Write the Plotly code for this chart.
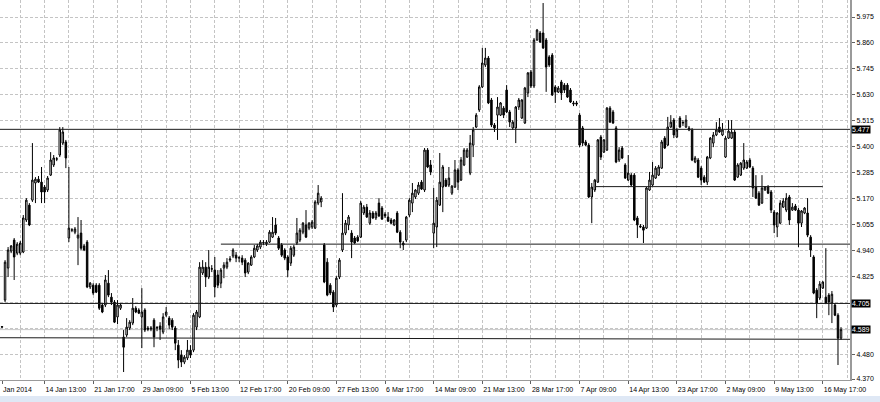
import pandas as pd
import plotly.graph_objects as go

# ---- trading calendar (3 bars per day: 09:00, 13:00, 17:00) ----
holidays = ["2014-04-18", "2014-04-21", "2014-05-01"]
first_day = "2014-01-07"
last_day = "2014-05-20"
bar_hours = [9, 13, 17]

# ---- OHLC values ----
bar_open = [
    4.600, 4.720, 4.862, 4.937, 4.986, 4.928, 4.928, 4.933, 5.075, 5.141,
    5.163, 5.239, 5.256, 5.243, 5.221, 5.208, 5.274, 5.319, 5.345, 5.363,
    5.416, 5.421, 4.995, 5.030, 5.021, 4.995, 5.017, 4.960, 4.977, 4.778,
    4.786, 4.786, 4.786, 4.698, 4.698, 4.795, 4.733, 4.711, 4.645, 4.684,
    4.556, 4.565, 4.596, 4.618, 4.684, 4.676, 4.645, 4.676, 4.596, 4.591,
    4.631, 4.596, 4.605, 4.578, 4.653, 4.640, 4.631, 4.596, 4.520, 4.476,
    4.445, 4.463, 4.498, 4.498, 4.600, 4.645, 4.840, 4.866, 4.822, 4.857,
    4.853, 4.831, 4.795, 4.862, 4.866, 4.897, 4.915, 4.919, 4.906, 4.906,
    4.897, 4.844, 4.875, 4.911, 4.942, 4.955, 4.973, 4.969, 4.977, 4.999,
    5.053, 4.995, 4.964, 4.942, 4.911, 4.884, 4.919, 4.973, 4.986, 5.021,
    5.053, 5.039, 5.044, 5.039, 5.150, 5.155, 4.964, 4.888, 4.786, 4.755,
    4.698, 4.822, 4.942, 5.017, 5.053, 5.017, 4.995, 4.999, 4.999, 5.106,
    5.132, 5.061, 5.106, 5.084, 5.150, 5.128, 5.101, 5.088, 5.075, 5.053,
    5.106, 5.021, 4.973, 4.986, 5.097, 5.150, 5.177, 5.194, 5.243, 5.208,
    5.385, 5.319, 5.017, 5.044, 5.141, 5.221, 5.252, 5.230, 5.194, 5.221,
    5.297, 5.252, 5.319, 5.354, 5.283, 5.407, 5.487, 5.563, 5.665, 5.762,
    5.793, 5.607, 5.496, 5.540, 5.540, 5.571, 5.651, 5.554, 5.483, 5.483,
    5.576, 5.527, 5.505, 5.638, 5.731, 5.669, 5.873, 5.904, 5.904, 5.873,
    5.798, 5.806, 5.665, 5.642, 5.687, 5.673, 5.673, 5.651, 5.594, 5.594,
    5.540, 5.483, 5.421, 5.407, 5.177, 5.208, 5.243, 5.443, 5.376, 5.385,
    5.571, 5.554, 5.483, 5.341, 5.394, 5.319, 5.252, 5.274, 5.274, 5.084,
    5.048, 5.044, 5.039, 5.208, 5.230, 5.261, 5.274, 5.305, 5.438, 5.407,
    5.487, 5.518, 5.443, 5.527, 5.505, 5.487, 5.483, 5.474, 5.332, 5.341,
    5.305, 5.265, 5.243, 5.350, 5.416, 5.452, 5.487, 5.452, 5.354, 5.438,
    5.438, 5.465, 5.265, 5.274, 5.305, 5.305, 5.341, 5.305, 5.221, 5.194,
    5.150, 5.208, 5.221, 5.199, 5.110, 5.044, 5.061, 5.132, 5.119, 5.177,
    5.119, 5.137, 5.119, 5.061, 5.106, 5.106, 4.999, 4.911, 4.764, 4.729,
    4.773, 4.733, 4.742, 4.707, 4.698, 4.653, 4.551,
]
bar_high = [
    4.605, 4.897, 4.955, 4.964, 4.995, 4.977, 4.982, 5.097, 5.172, 5.150,
    5.416, 5.265, 5.270, 5.310, 5.230, 5.270, 5.376, 5.363, 5.354, 5.487,
    5.487, 5.430, 5.310, 5.039, 5.044, 5.088, 5.075, 4.969, 4.986, 4.800,
    4.795, 4.795, 4.795, 4.707, 4.831, 4.853, 4.751, 4.720, 4.720, 4.707,
    4.587, 4.640, 4.631, 4.729, 4.693, 4.684, 4.773, 4.684, 4.605, 4.605,
    4.640, 4.605, 4.622, 4.662, 4.689, 4.649, 4.640, 4.605, 4.543, 4.498,
    4.476, 4.543, 4.520, 4.662, 4.676, 4.888, 4.897, 4.888, 4.942, 4.875,
    4.911, 4.853, 4.862, 4.888, 4.906, 4.915, 4.950, 4.933, 4.915, 4.919,
    4.906, 4.888, 4.919, 4.964, 4.969, 4.986, 4.986, 4.986, 5.030, 5.088,
    5.084, 5.004, 4.973, 4.950, 4.919, 4.960, 4.964, 5.084, 5.039, 5.066,
    5.119, 5.066, 5.075, 5.163, 5.230, 5.181, 4.973, 4.906, 4.795, 4.764,
    4.826, 4.906, 5.194, 5.075, 5.097, 5.030, 5.004, 5.008, 5.159, 5.141,
    5.146, 5.119, 5.115, 5.115, 5.172, 5.137, 5.110, 5.110, 5.084, 5.079,
    5.115, 5.030, 4.982, 5.093, 5.172, 5.239, 5.212, 5.243, 5.252, 5.394,
    5.394, 5.341, 5.217, 5.177, 5.372, 5.319, 5.261, 5.310, 5.230, 5.341,
    5.305, 5.354, 5.394, 5.394, 5.452, 5.487, 5.549, 5.673, 5.838, 5.838,
    5.802, 5.616, 5.505, 5.620, 5.598, 5.580, 5.673, 5.563, 5.518, 5.580,
    5.616, 5.611, 5.665, 5.731, 5.740, 5.882, 5.922, 5.913, 6.037, 5.882,
    5.806, 5.815, 5.673, 5.669, 5.696, 5.682, 5.682, 5.660, 5.603, 5.603,
    5.549, 5.492, 5.430, 5.416, 5.239, 5.257, 5.434, 5.452, 5.434, 5.576,
    5.580, 5.563, 5.492, 5.398, 5.403, 5.327, 5.363, 5.283, 5.283, 5.093,
    5.057, 5.053, 5.221, 5.288, 5.332, 5.314, 5.319, 5.430, 5.447, 5.532,
    5.540, 5.527, 5.483, 5.536, 5.518, 5.540, 5.492, 5.483, 5.359, 5.350,
    5.314, 5.274, 5.359, 5.443, 5.465, 5.509, 5.527, 5.505, 5.447, 5.518,
    5.518, 5.474, 5.327, 5.332, 5.416, 5.341, 5.350, 5.314, 5.274, 5.203,
    5.274, 5.225, 5.230, 5.208, 5.119, 5.110, 5.163, 5.172, 5.194, 5.186,
    5.150, 5.146, 5.128, 5.119, 5.132, 5.172, 5.008, 4.919, 4.773, 4.804,
    4.804, 4.950, 4.751, 4.760, 4.707, 4.662, 4.600,
]
bar_low = [
    4.596, 4.711, 4.822, 4.928, 4.809, 4.919, 4.919, 4.928, 5.066, 5.048,
    5.155, 5.150, 5.239, 5.150, 5.150, 5.199, 5.270, 5.310, 5.336, 5.354,
    5.407, 5.305, 4.977, 5.021, 5.012, 4.875, 4.942, 4.937, 4.773, 4.769,
    4.742, 4.751, 4.676, 4.662, 4.689, 4.733, 4.698, 4.618, 4.613, 4.676,
    4.401, 4.556, 4.587, 4.609, 4.662, 4.658, 4.507, 4.578, 4.582, 4.582,
    4.511, 4.582, 4.543, 4.569, 4.645, 4.591, 4.587, 4.498, 4.418, 4.423,
    4.436, 4.454, 4.463, 4.489, 4.587, 4.640, 4.831, 4.778, 4.813, 4.844,
    4.733, 4.773, 4.773, 4.817, 4.857, 4.888, 4.906, 4.888, 4.888, 4.875,
    4.822, 4.835, 4.871, 4.906, 4.933, 4.946, 4.964, 4.960, 4.973, 4.995,
    5.008, 4.942, 4.911, 4.897, 4.822, 4.871, 4.911, 4.964, 4.977, 5.012,
    4.995, 5.030, 5.035, 5.035, 5.141, 5.132, 4.795, 4.737, 4.742, 4.667,
    4.689, 4.813, 4.933, 5.008, 5.030, 4.906, 4.969, 4.977, 4.995, 5.097,
    5.084, 5.053, 5.079, 5.075, 5.088, 5.075, 5.084, 5.066, 5.057, 5.048,
    5.017, 4.950, 4.942, 4.977, 5.088, 5.110, 5.168, 5.186, 5.208, 5.199,
    5.305, 5.274, 4.950, 4.955, 5.137, 5.110, 5.221, 5.221, 5.186, 5.217,
    5.208, 5.248, 5.314, 5.350, 5.274, 5.354, 5.483, 5.554, 5.660, 5.753,
    5.589, 5.487, 5.465, 5.430, 5.536, 5.527, 5.549, 5.487, 5.474, 5.416,
    5.563, 5.523, 5.501, 5.620, 5.660, 5.660, 5.869, 5.860, 5.833, 5.643,
    5.753, 5.625, 5.594, 5.638, 5.607, 5.638, 5.616, 5.594, 5.580, 5.580,
    5.398, 5.403, 5.403, 5.172, 5.061, 5.199, 5.239, 5.341, 5.372, 5.381,
    5.505, 5.501, 5.327, 5.332, 5.345, 5.257, 5.248, 5.225, 5.070, 4.995,
    5.039, 4.973, 5.035, 5.204, 5.225, 5.257, 5.270, 5.301, 5.390, 5.403,
    5.483, 5.438, 5.438, 5.483, 5.492, 5.483, 5.469, 5.336, 5.327, 5.261,
    5.230, 5.239, 5.230, 5.345, 5.398, 5.447, 5.461, 5.447, 5.350, 5.434,
    5.434, 5.248, 5.261, 5.270, 5.297, 5.301, 5.305, 5.177, 5.168, 5.137,
    5.146, 5.204, 5.190, 5.106, 5.017, 4.999, 5.057, 5.128, 5.110, 5.053,
    5.115, 5.115, 4.955, 5.044, 5.101, 4.999, 4.911, 4.746, 4.640, 4.720,
    4.769, 4.702, 4.653, 4.618, 4.649, 4.432, 4.543,
]
bar_close = [
    4.602, 4.888, 4.942, 4.960, 4.911, 4.968, 4.973, 5.084, 5.163, 5.053,
    5.252, 5.256, 5.243, 5.199, 5.199, 5.261, 5.341, 5.350, 5.346, 5.474,
    5.465, 5.350, 5.039, 5.031, 5.035, 5.008, 4.950, 4.942, 4.778, 4.795,
    4.751, 4.755, 4.684, 4.667, 4.809, 4.742, 4.711, 4.622, 4.698, 4.698,
    4.511, 4.600, 4.622, 4.684, 4.667, 4.662, 4.667, 4.587, 4.591, 4.596,
    4.556, 4.598, 4.591, 4.645, 4.667, 4.609, 4.600, 4.529, 4.454, 4.445,
    4.467, 4.498, 4.476, 4.653, 4.667, 4.866, 4.866, 4.822, 4.866, 4.859,
    4.778, 4.786, 4.853, 4.875, 4.888, 4.902, 4.942, 4.906, 4.908, 4.888,
    4.840, 4.884, 4.911, 4.950, 4.960, 4.977, 4.975, 4.977, 5.021, 5.021,
    5.017, 4.950, 4.919, 4.906, 4.853, 4.950, 4.955, 5.017, 5.030, 5.061,
    4.999, 5.061, 5.066, 5.155, 5.194, 5.172, 4.800, 4.742, 4.751, 4.689,
    4.817, 4.897, 5.017, 5.061, 5.088, 4.977, 4.973, 4.982, 5.150, 5.132,
    5.088, 5.106, 5.084, 5.106, 5.093, 5.079, 5.093, 5.070, 5.061, 5.075,
    5.021, 4.977, 4.964, 5.088, 5.163, 5.194, 5.208, 5.230, 5.212, 5.385,
    5.310, 5.288, 5.061, 5.163, 5.243, 5.310, 5.225, 5.261, 5.225, 5.297,
    5.243, 5.341, 5.385, 5.385, 5.416, 5.474, 5.540, 5.665, 5.771, 5.793,
    5.594, 5.496, 5.483, 5.576, 5.594, 5.540, 5.554, 5.509, 5.509, 5.576,
    5.607, 5.607, 5.660, 5.727, 5.669, 5.873, 5.917, 5.864, 5.838, 5.753,
    5.762, 5.629, 5.642, 5.660, 5.638, 5.651, 5.620, 5.598, 5.590, 5.589,
    5.407, 5.416, 5.407, 5.177, 5.221, 5.252, 5.430, 5.354, 5.430, 5.571,
    5.509, 5.505, 5.332, 5.385, 5.350, 5.261, 5.283, 5.230, 5.075, 5.053,
    5.044, 5.030, 5.217, 5.252, 5.274, 5.305, 5.310, 5.421, 5.394, 5.487,
    5.509, 5.452, 5.474, 5.487, 5.507, 5.518, 5.474, 5.341, 5.350, 5.265,
    5.252, 5.243, 5.354, 5.438, 5.452, 5.474, 5.465, 5.474, 5.438, 5.469,
    5.465, 5.252, 5.319, 5.327, 5.341, 5.332, 5.310, 5.217, 5.172, 5.141,
    5.217, 5.221, 5.194, 5.119, 5.053, 5.106, 5.150, 5.159, 5.172, 5.075,
    5.132, 5.119, 5.061, 5.115, 5.128, 5.008, 4.942, 4.751, 4.707, 4.791,
    4.800, 4.707, 4.711, 4.746, 4.653, 4.551, 4.589,
]

# ---- axis tick labels ----
x_tick_labels = ["Jan 2014", "14 Jan 13:00", "21 Jan 17:00", "29 Jan 09:00", "5 Feb 13:00",
                 "12 Feb 17:00", "20 Feb 09:00", "27 Feb 13:00", "6 Mar 17:00", "14 Mar 09:00",
                 "21 Mar 13:00", "28 Mar 17:00", "7 Apr 09:00", "14 Apr 13:00", "23 Apr 17:00",
                 "2 May 09:00", "9 May 13:00", "16 May 17:00"]
x_tick_times = ["2014-01-07 17:00", "2014-01-14 13:00", "2014-01-21 17:00", "2014-01-29 09:00",
                "2014-02-05 13:00", "2014-02-12 17:00", "2014-02-20 09:00", "2014-02-27 13:00",
                "2014-03-06 17:00", "2014-03-14 09:00", "2014-03-21 13:00", "2014-03-28 17:00",
                "2014-04-07 09:00", "2014-04-14 13:00", "2014-04-23 17:00", "2014-05-02 09:00",
                "2014-05-09 13:00", "2014-05-16 17:00"]
y_tick_labels = ["5.975", "5.860", "5.745", "5.630", "5.515", "5.400", "5.285", "5.170",
                 "5.055", "4.940", "4.825", "4.480", "4.370"]
y_grid_levels = ["5.975", "5.860", "5.745", "5.630", "5.515", "5.400", "5.285", "5.170",
                 "5.055", "4.940", "4.825", "4.710", "4.595", "4.480"]

# ---- level lines (price, start time or None, end time or None) ----
level_prices = [5.477, 4.705, 4.968, 5.223]
level_starts = [None, None, "2014-02-10 17:00", "2014-04-08 17:00"]
level_ends = [None, None, None, "2014-05-16 17:00"]
support_line = [4.553, 4.546]
last_price = 4.589
price_tags = [5.477, 4.705, 4.589]

# ---- build bar index ----
days = [d for d in pd.bdate_range(first_day, last_day) if d.strftime("%Y-%m-%d") not in holidays]
bar_times = [d + pd.Timedelta(hours=h) for d in days for h in bar_hours][2:]
pos = {t: i for i, t in enumerate(bar_times)}
x_idx = list(range(len(bar_times)))

major_vals = [pos[pd.Timestamp(t)] for t in x_tick_times]
minor_vals = [v - 8 for v in major_vals[1:]] + [major_vals[-1] + 8]
minor_vals = sorted(set(minor_vals + major_vals[1:]))

X_RANGE = [-0.66, 278.95]
Y_RANGE = [4.3656, 6.0504]
FONT = "Liberation Sans, Arial, sans-serif"
grid_color = "#c4c4c4"

fig = go.Figure(go.Candlestick(
    x=x_idx, open=bar_open, high=bar_high, low=bar_low, close=bar_close,
    increasing=dict(line=dict(color="black", width=1), fillcolor="white"),
    decreasing=dict(line=dict(color="black", width=1), fillcolor="black"),
    whiskerwidth=0, hoverinfo="skip",
))

fig.update_layout(
    width=880, height=402,
    margin=dict(l=0, r=30, t=0, b=22),
    plot_bgcolor="white", paper_bgcolor="white",
    showlegend=False,
    font=dict(family=FONT, size=7, color="#000000"),
)
fig.update_xaxes(
    range=X_RANGE, tickmode="array", tickvals=major_vals, ticktext=x_tick_labels,
    ticks="outside", ticklen=3, tickcolor="#606060", ticklabelposition="outside right",
    ticklabelstandoff=3, tickangle=0, showgrid=False, zeroline=False,
    minor=dict(tickmode="array", tickvals=minor_vals, showgrid=True, gridcolor=grid_color,
               griddash="3px,2px", gridwidth=1, ticks=""),
    showline=True, linecolor="#9a9a9a", linewidth=1,
    rangeslider=dict(visible=False), fixedrange=True,
)
fig.update_yaxes(
    side="right", range=Y_RANGE, tickmode="array",
    tickvals=[float(s) for s in y_tick_labels], ticktext=y_tick_labels,
    ticks="outside", ticklen=3, tickcolor="#606060",
    showgrid=False, zeroline=False, showline=True, linecolor="#9a9a9a", linewidth=2,
    minor=dict(tickmode="array", tickvals=[float(s) for s in y_grid_levels], showgrid=True,
               gridcolor=grid_color, griddash="3px,2px", gridwidth=1, ticks="outside",
               ticklen=3, tickcolor="#606060"),
    fixedrange=True,
)

shapes = []
for p, s, e in zip(level_prices, level_starts, level_ends):
    if s is None:
        shapes.append(dict(type="line", xref="paper", x0=0, x1=1, yref="y", y0=p, y1=p,
                           line=dict(color="#1a1a1a", width=1)))
    else:
        x0 = pos[pd.Timestamp(s)]
        x1 = X_RANGE[1] if e is None else pos[pd.Timestamp(e)]
        shapes.append(dict(type="line", xref="x", x0=x0, x1=x1, yref="y", y0=p, y1=p,
                           line=dict(color="#1a1a1a", width=1)))
shapes.append(dict(type="line", xref="paper", x0=0, x1=1, yref="y",
                   y0=support_line[0], y1=support_line[1], line=dict(color="#1a1a1a", width=1)))
shapes.append(dict(type="line", xref="paper", x0=0, x1=1, yref="y", y0=last_price, y1=last_price,
                   line=dict(color="#c8c8c8", width=1), layer="below"))
# window tab strip at the bottom
shapes.append(dict(type="rect", xref="paper", yref="paper", x0=-0.01, x1=1.05, y0=-0.07, y1=-0.0421,
                   fillcolor="#dfe8f5", line=dict(width=0)))
fig.update_layout(shapes=shapes)

for p in price_tags:
    fig.add_annotation(xref="paper", x=1, xanchor="left", xshift=1, yref="y", y=p,
                       text=f"{p:.3f}", showarrow=False, bgcolor="black",
                       font=dict(color="white", size=7, family=FONT), borderpad=0)

fig.write_html("out.html", config={"displayModeBar": False},
               post_script="document.body.style.margin='0';document.body.style.padding='0';")
